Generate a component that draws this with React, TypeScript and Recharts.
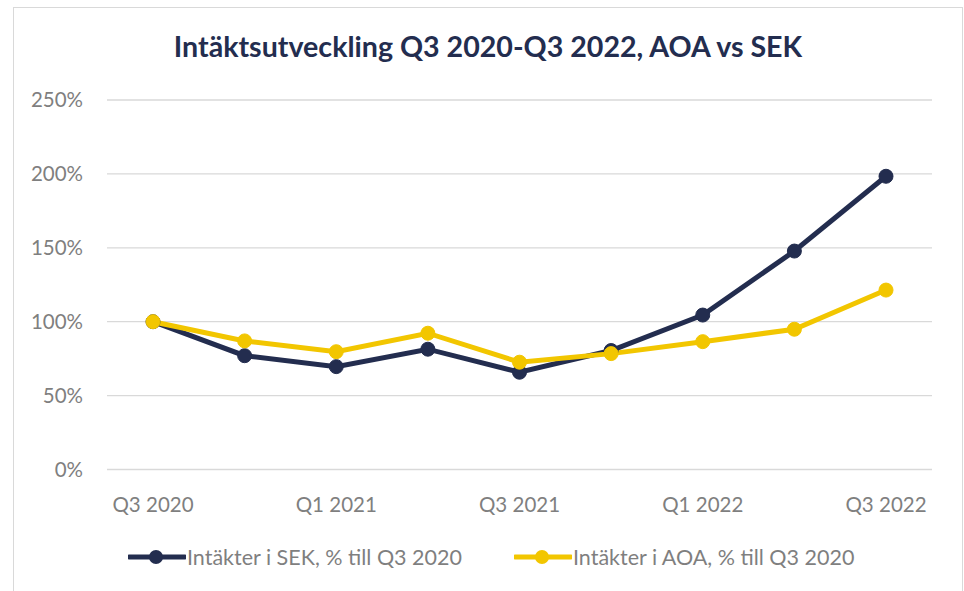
import React from "react";
import { LineChart, Line, XAxis, YAxis, CartesianGrid, Legend } from "recharts";

const categories = ["Q3 2020", "Q4 2020", "Q1 2021", "Q2 2021", "Q3 2021", "Q4 2021", "Q1 2022", "Q2 2022", "Q3 2022"];
const sekValues = [100, 77.0, 69.6, 81.4, 65.8, 80.5, 104.5, 147.8, 198.4];
const aoaValues = [100, 87.0, 79.7, 92.2, 72.6, 78.4, 86.5, 94.9, 121.4];
const yTicks = [0, 50, 100, 150, 200, 250];
const seriesNames = ["Intäkter i SEK, % till Q3 2020", "Intäkter i AOA, % till Q3 2020"];
const title = "Intäktsutveckling Q3 2020-Q3 2022, AOA vs SEK";

const NAVY = "#232d4f";
const YELLOW = "#f2c600";
const FONT = "Lato, 'Open Sans', sans-serif";

const data = categories.map((c, i) => ({ cat: c, sek: sekValues[i], aoa: aoaValues[i] }));

const renderLegend = () => {
  const items = [
    { name: seriesNames[0], color: NAVY },
    { name: seriesNames[1], color: YELLOW },
  ];
  return (
    <div style={{ display: "flex", alignItems: "center", fontFamily: FONT, fontSize: 21.5, color: "#7f7f7f", whiteSpace: "nowrap" }}>
      {items.map((it, i) => (
        <div key={i} style={{ display: "flex", alignItems: "center", marginRight: i === 0 ? 52 : 0 }}>
          <svg width={58} height={20} style={{ display: "block" }}>
            <line x1={1} y1={10} x2={57} y2={10} stroke={it.color} strokeWidth={5} strokeLinecap="round" />
            <circle cx={28} cy={10} r={7} fill={it.color} />
          </svg>
          <span style={{ marginLeft: 1 }}>{it.name}</span>
        </div>
      ))}
    </div>
  );
};

export default function App() {
  return (
    <div
      style={{
        position: "absolute",
        left: 13,
        top: 7,
        width: 948,
        height: 600,
        border: "1px solid #d9d9d9",
        background: "#fff",
      }}
    >
      <div
        style={{
          position: "absolute",
          top: 21,
          left: 0,
          width: 948,
          textAlign: "center",
          fontFamily: FONT,
          fontWeight: 700,
          fontSize: 28.6,
          color: NAVY,
          lineHeight: "normal",
        }}
      >
        {title}
      </div>
      <LineChart
        width={948}
        height={585}
        data={data}
        margin={{ top: 92, right: 30, left: 0, bottom: 63.5 }}
      >
        <CartesianGrid horizontal={true} vertical={false} stroke="#d9d9d9" strokeWidth={1.3} />
        <XAxis
          dataKey="cat"
          interval={1}
          axisLine={false}
          tickLine={false}
          tickMargin={22}
          height={60}
          padding={{ left: 46, right: 46 }}
          tick={{ fill: "#7f7f7f", fontSize: 20.5, fontFamily: FONT }}
        />
        <YAxis
          domain={[0, 250]}
          ticks={yTicks}
          width={93}
          axisLine={false}
          tickLine={false}
          tickMargin={18}
          tickFormatter={(v: number) => `${v}%`}
          tick={{ fill: "#7f7f7f", fontSize: 20.5, fontFamily: FONT }}
        />
        <Line
          type="linear"
          dataKey="sek"
          name={seriesNames[0]}
          stroke={NAVY}
          strokeWidth={5}
          dot={{ r: 7, fill: NAVY, stroke: NAVY, strokeWidth: 1 }}
          activeDot={false}
          isAnimationActive={false}
        />
        <Line
          type="linear"
          dataKey="aoa"
          name={seriesNames[1]}
          stroke={YELLOW}
          strokeWidth={5}
          dot={{ r: 7, fill: YELLOW, stroke: YELLOW, strokeWidth: 1 }}
          activeDot={false}
          isAnimationActive={false}
        />
        <Legend
          verticalAlign="middle"
          align="center"
          layout="horizontal"
          content={renderLegend}
          wrapperStyle={{ top: 536, left: 114, width: "auto", height: "auto" }}
        />
      </LineChart>
    </div>
  );
}
